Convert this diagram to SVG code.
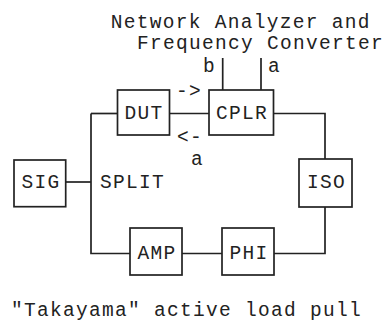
<svg xmlns="http://www.w3.org/2000/svg" width="384" height="329" viewBox="0 0 384 329">
<style>
text{font-family:"Liberation Mono","Courier New",monospace;font-size:19.5px;letter-spacing:1.3px;fill:#222}
.c{text-anchor:middle}
.box{fill:#fff;stroke:#222;stroke-width:1.7}
.ln{fill:none;stroke:#222;stroke-width:1.7}
</style>
<rect width="384" height="329" fill="#fff"/>
<g id="connectors">
<path class="ln" d="M91,113.5 V253.5 H130"/>
<path class="ln" d="M66,182 H91"/>
<path class="ln" d="M91,113.5 H117.5"/>
<path class="ln" d="M169.5,113.5 H209"/>
<path class="ln" d="M273.5,113.5 H325 V159"/>
<path class="ln" d="M325,207 V253.5 H274"/>
<path class="ln" d="M222,253.5 H182"/>
<path class="ln" d="M222.7,58 V90"/>
<path class="ln" d="M261,58 V90"/>
</g>
<g id="na">
<text x="110.7" y="27.5">Network Analyzer and</text>
<text x="137" y="49">Frequency Converter</text>
<text class="c" x="209.6" y="72">b</text>
<text class="c" x="274.6" y="72">a</text>
</g>
<g id="DUT"><rect class="box" x="117.5" y="90" width="52" height="45"/><text class="c" x="144.1" y="119">DUT</text></g>
<g id="CPLR"><rect class="box" x="209" y="90" width="64.5" height="45"/><text class="c" x="241.9" y="119">CPLR</text></g>
<g id="labels">
<text class="c" x="189.1" y="97">-&gt;</text>
<text class="c" x="190.1" y="143">&lt;-</text>
<text class="c" x="197.6" y="165">a</text>
<text x="100" y="188">SPLIT</text>
</g>
<g id="SIG"><rect class="box" x="14" y="160" width="51.7" height="46.7"/><text class="c" x="41.1" y="188">SIG</text></g>
<g id="ISO"><rect class="box" x="299" y="159" width="53" height="48"/><text class="c" x="326.6" y="187.5">ISO</text></g>
<g id="AMP"><rect class="box" x="130" y="228" width="52" height="47"/><text class="c" x="157.1" y="258.5">AMP</text></g>
<g id="PHI"><rect class="box" x="222" y="228" width="52" height="47"/><text class="c" x="248.9" y="258.5">PHI</text></g>
<g id="caption"><text x="11" y="316">"Takayama" active load pull</text></g>
</svg>
